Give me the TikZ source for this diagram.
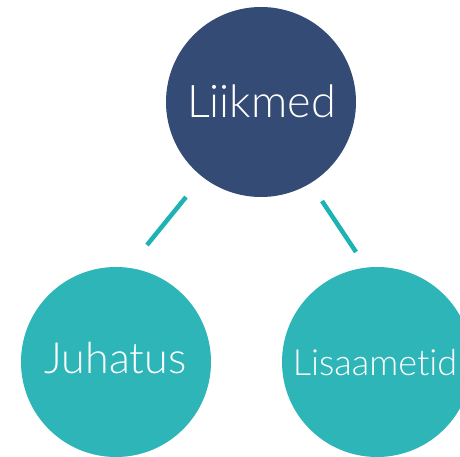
\documentclass[tikz,border=0pt]{standalone}
\usepackage{fontspec}
\setmainfont[Ligatures=NoCommon]{Lato Light}
\definecolor{navy}{HTML}{344B75}
\definecolor{teal}{HTML}{2DB5B8}
\definecolor{linkteal}{HTML}{1DB2B3}
\begin{document}
\begin{tikzpicture}[x=1pt,y=-1pt,
  bubble/.style={circle,inner sep=0pt,minimum size=190pt},
  lbl/.style={anchor=base,text=white,inner sep=0pt},
  link/.style={draw=linkteal,line width=4.5pt}]
\useasboundingbox (0,0) rectangle (460,457);
\clip (0,0) rectangle (460,457);
\node[bubble,fill=navy] (top) at (261,102) {};
\node[bubble,fill=teal] (left) at (116,362) {};
\node[bubble,fill=teal] (right) at (377,362) {};
\node[lbl,font=\fontsize{45}{47}\selectfont] (ttop) at (261.5,118) {Liikmed};
\node[lbl,font=\fontsize{43}{45}\selectfont] (tleft) at (115.5,373) {Juhatus};
\node[lbl,font=\fontsize{36}{38}\selectfont] (tright) at (375,375) {Lisaametid};
\coordinate (l1) at (186,197);
\coordinate (l2) at (147,245);
\coordinate (r1) at (322,201);
\coordinate (r2) at (356,252);
\draw[link] (l1) -- (l2);
\draw[link] (r1) -- (r2);
\end{tikzpicture}
\end{document}
